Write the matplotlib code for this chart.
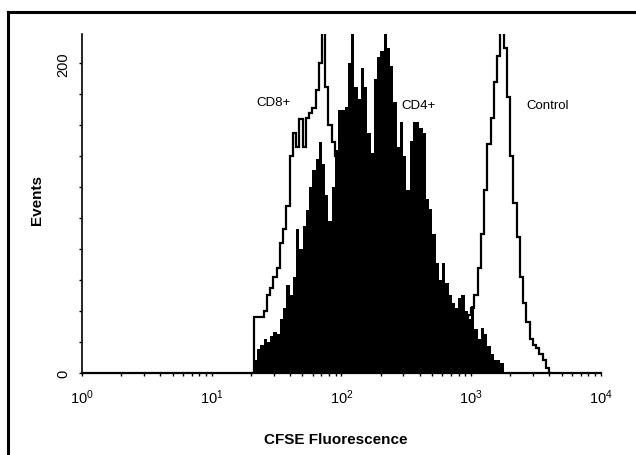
import numpy as np
import matplotlib
matplotlib.use("Agg")
import matplotlib.pyplot as plt
from matplotlib.lines import Line2D
from matplotlib.ticker import MultipleLocator, LogLocator, FixedLocator

plt.rcParams['font.family'] = ['Liberation Sans', 'DejaVu Sans']

# histogram channels: log10 decades, 0.025 decade per channel
CD4_START = 1.300
CD8_START = 1.300
CTRL_START = 2.750
BIN_W = 0.025

cd4_counts = [0, 8, 15, 18, 22, 20, 24, 26, 25, 35, 42, 57, 50, 62, 93, 80,
              95, 105, 120, 131, 138, 149, 135, 115, 98, 120, 144, 170, 170,
              172, 200, 225, 185, 177, 197, 185, 155, 142, 190, 204, 208, 225,
              210, 198, 175, 146, 162, 140, 118, 150, 162, 162, 158, 155, 112,
              106, 90, 71, 60, 71, 58, 50, 45, 42, 48, 50, 40, 35, 43, 28, 22,
              29, 25, 17, 12, 8, 8, 6, 0, 0]

cd8_counts = [0, 36, 36, 36, 40, 50, 55, 62, 68, 84, 93, 108, 140, 155, 146,
              164, 146, 165, 168, 171, 183, 200, 222, 185, 160, 149, 140, 130,
              120, 110, 100, 92, 85, 78, 70, 62, 55, 48, 40, 33, 27, 20, 15,
              10, 6, 3, 0]

ctrl_counts = [3, 6, 10, 14, 18, 22, 26, 30, 33, 37, 42, 50, 68, 90, 118, 148,
               165, 188, 205, 222, 210, 178, 140, 110, 88, 62, 45, 33, 22, 18,
               16, 12, 8, 3, 0]

labels = ["CD8+", "CD4+", "Control"]
label_x = [22.2, 290, 2667]
label_y = [175, 173, 173]


def edges(start, n):
    return 10 ** (start + BIN_W * np.arange(n + 1))


fig = plt.figure(figsize=(6.36, 4.56), dpi=100)
ax = fig.add_axes([0.1289, 0.1805, 0.8160, 0.7427])

# outlines under the filled CD4 histogram
ax.stairs(cd8_counts, edges(CD8_START, len(cd8_counts)), baseline=0,
          color='black', lw=1.6, zorder=2)
ax.stairs(ctrl_counts, edges(CTRL_START, len(ctrl_counts)), baseline=0,
          color='black', lw=1.6, zorder=2)
ax.stairs(cd4_counts, edges(CD4_START, len(cd4_counts)), baseline=0,
          fill=True, color='black', zorder=3)

for txt, x, y in zip(labels, label_x, label_y):
    ax.text(x, y, txt, fontsize=9.5, va='center', ha='left')

ax.set_xscale('log')
ax.set_xlim(1, 1e4)
ax.set_ylim(0, 219)
ax.xaxis.set_major_locator(LogLocator(base=10, numticks=10))
ax.xaxis.set_minor_locator(LogLocator(base=10, subs=np.arange(2, 10), numticks=20))
ax.yaxis.set_major_locator(FixedLocator([0, 200]))
ax.yaxis.set_minor_locator(MultipleLocator(20))

for s in ['top', 'right']:
    ax.spines[s].set_visible(False)
ax.spines['left'].set_linewidth(1.2)
ax.spines['bottom'].set_linewidth(1.6)

ax.tick_params(axis='both', which='both', direction='out', width=1, length=2.5,
               labelsize=10.5)
ax.tick_params(axis='x', which='major', pad=8)
ax.tick_params(axis='y', which='major', pad=6)
for lab in ax.get_yticklabels():
    lab.set_rotation(90)
    lab.set_va('center')

fig.text(37 / 636, 1 - 200 / 456, "Events", rotation=90, fontsize=11,
         fontweight='bold', ha='center', va='center')
fig.text(336 / 636, 1 - 440 / 456, "CFSE Fluorescence", fontsize=11,
         fontweight='bold', ha='center', va='center')

# partial frame around the figure (left and top edges)
fx = 7.5 / 636
fy = 1 - 12.5 / 456
fig.add_artist(Line2D([fx, fx], [0, fy], color='black', lw=2.2,
                      transform=fig.transFigure))
fig.add_artist(Line2D([fx, 1], [fy, fy], color='black', lw=2.2,
                      transform=fig.transFigure))

fig.savefig("out.png", dpi=100)
